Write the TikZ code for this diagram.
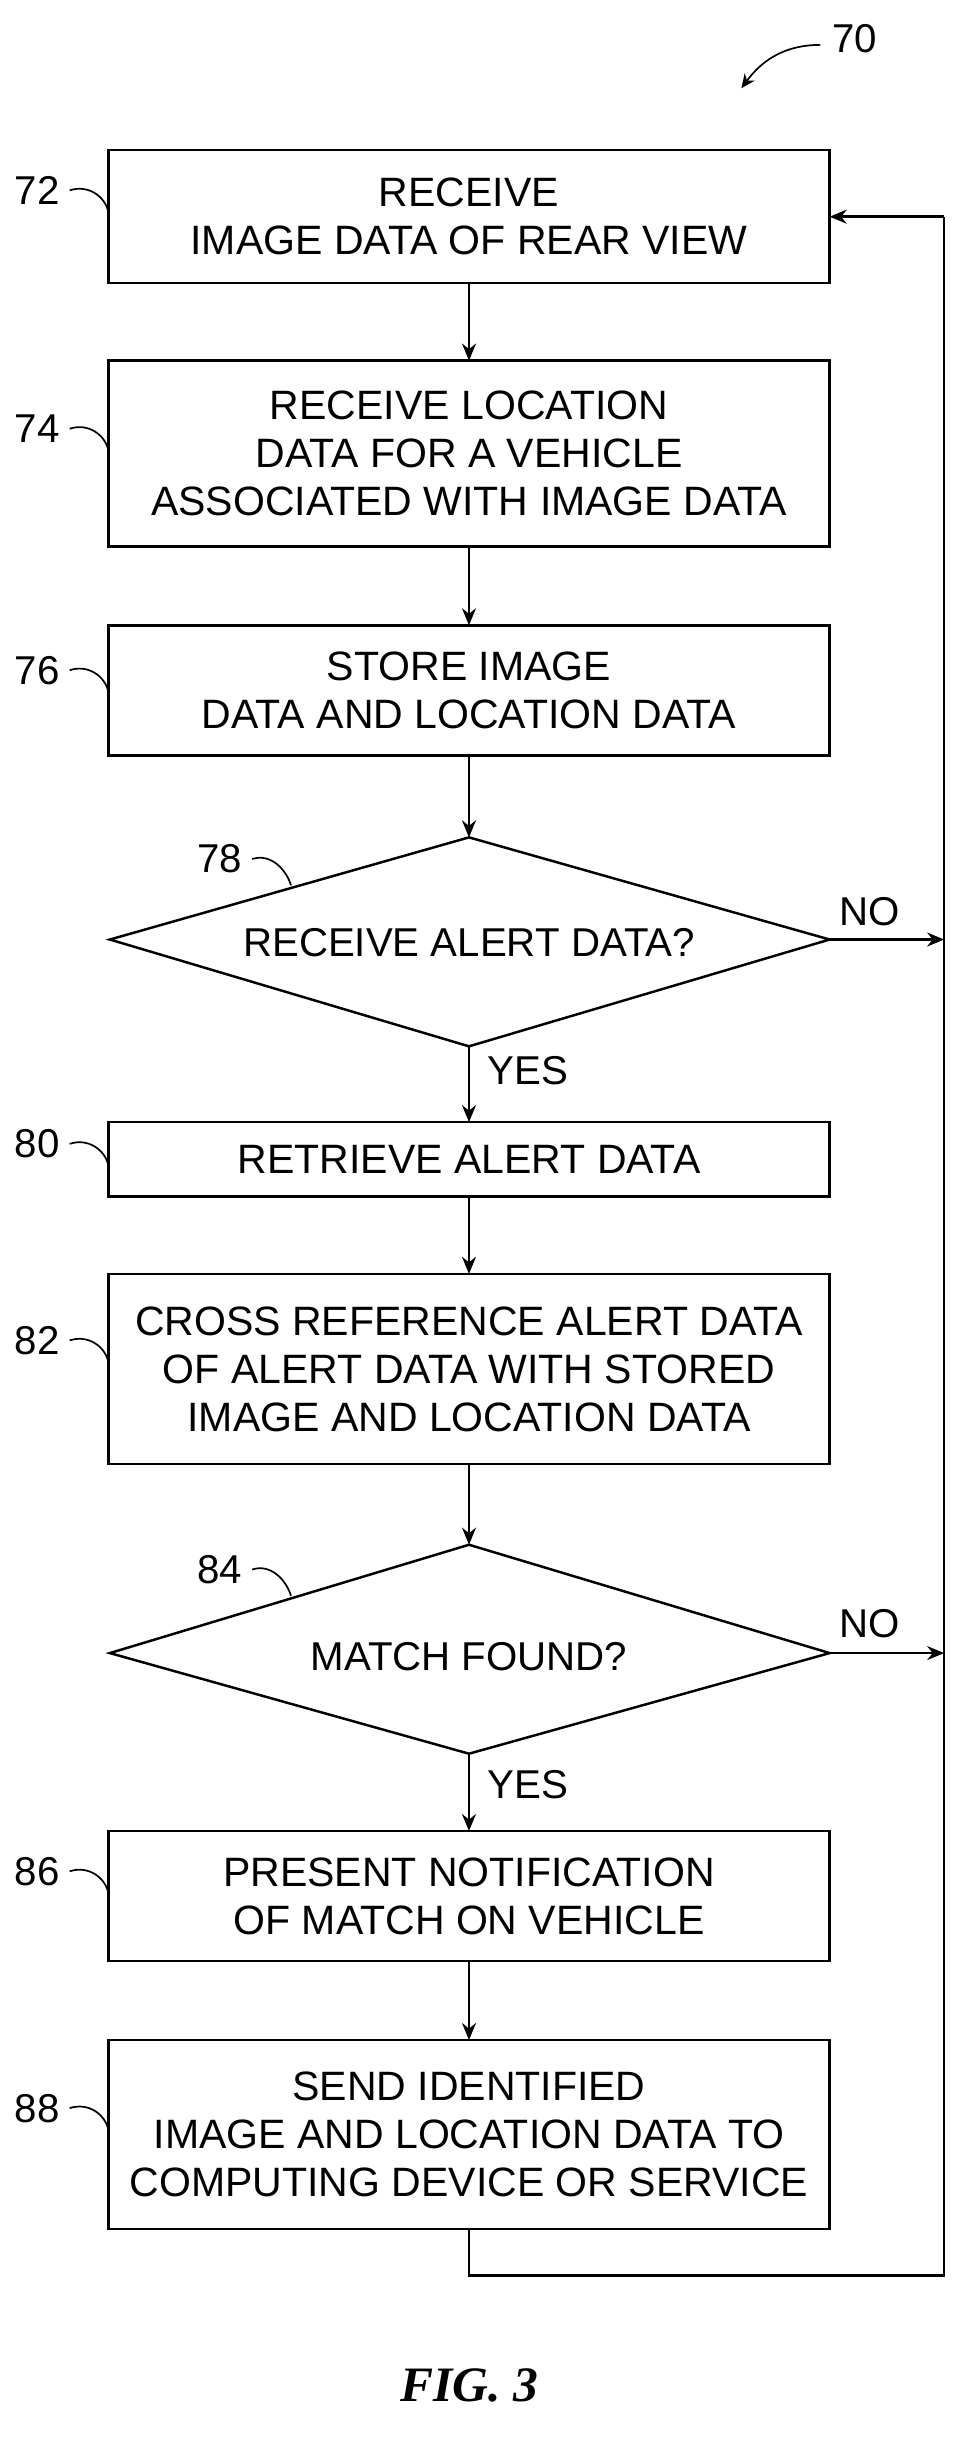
\documentclass[tikz,border=0pt]{standalone}
\usepackage{fontspec}
\setmainfont{Liberation Sans}
\newfontfamily\figfont{Liberation Serif}
\usetikzlibrary{arrows.meta}
\begin{document}
\begin{tikzpicture}[x=1pt,y=-1pt,
  lw/.style={line width=1.6pt},
  box/.style={draw,lw,align=center,font=\fontsize{26.5}{31}\selectfont},
  arr/.style={lw,-{Stealth[length=11pt,width=9pt]}},
  lab/.style={font=\fontsize{26}{29}\selectfont},
  tag/.style={line width=1.1pt}]
\useasboundingbox (0,0) rectangle (621,1579);
\fill[white] (0,0) rectangle (621,1579);
\newcommand{\bx}[4]{\draw[lw] (70,#2) rectangle (536,#3); \node[box,draw=none] (#1) at (303,{(#2+#3)/2}) {#4};
 \coordinate (#1t) at (303,#2); \coordinate (#1b) at (303,#3);}
\bx{b72}{97}{183}{RECEIVE\\IMAGE DATA OF REAR VIEW}
\bx{b74}{233}{353}{RECEIVE LOCATION\\DATA FOR A VEHICLE\\ASSOCIATED WITH IMAGE DATA}
\bx{b76}{404}{488}{STORE IMAGE\\DATA AND LOCATION DATA}
\bx{b80}{725}{773}{RETRIEVE ALERT DATA}
\bx{b82}{823}{946}{CROSS REFERENCE ALERT DATA\\OF ALERT DATA WITH STORED\\IMAGE AND LOCATION DATA}
\bx{b86}{1183}{1267}{PRESENT NOTIFICATION\\OF MATCH ON VEHICLE}
\bx{b88}{1318}{1440}{SEND IDENTIFIED\\IMAGE AND LOCATION DATA TO\\COMPUTING DEVICE OR SERVICE}
% diamonds
\draw[lw] (303,541) coordinate (d78t) -- (536,607) coordinate (d78r) -- (303,676) coordinate (d78b) -- (71,607) -- cycle;
\node[lab] (d78) at (303,609) {RECEIVE ALERT DATA?};
\draw[lw] (303,998) coordinate (d84t) -- (536,1068) coordinate (d84r) -- (303,1133) coordinate (d84b) -- (71,1068) -- cycle;
\node[lab] (d84) at (303,1070) {MATCH FOUND?};
% connectors
\draw[arr] (b72b) -- (b74t);
\draw[arr] (b74b) -- (b76t);
\draw[arr] (b76b) -- (d78t);
\draw[arr] (d78b) -- (b80t);
\draw[arr] (b80b) -- (b82t);
\draw[arr] (b82b) -- (d84t);
\draw[arr] (d84b) -- (b86t);
\draw[arr] (b86b) -- (b88t);
\coordinate (c1) at (303,1470); \coordinate (c2) at (610,1470);
\coordinate (c3) at (610,140); \coordinate (c4) at (536,140);
\coordinate (n1) at (610,607); \coordinate (n2) at (610,1068);
\draw[lw] (b88b) -- (c1) -- (c2) -- (c3);
\draw[arr] (c3) -- (c4);
\draw[arr] (d78r) -- (n1);
\draw[arr] (d84r) -- (n2);
\node[lab] (no1) at (562,589) {NO};
\node[lab] (no2) at (562,1049) {NO};
\node[lab] (y1) at (341,692) {YES};
\node[lab] (y2) at (341,1153) {YES};
% tags
\newcommand{\tg}[4]{\node[lab,anchor=east] (t#1) at (#2,#3) {#1};
 \draw[tag] ([xshift=3pt]t#1.east) .. controls +(12,-4) and +(-2,-10) .. (#4,#3+14);}
\tg{72}{42}{123}{70}
\tg{74}{42}{277}{70}
\tg{76}{42}{433}{70}
\tg{80}{42}{739}{70}
\tg{82}{42}{866}{70}
\tg{86}{42}{1209}{70}
\tg{88}{42}{1362}{70}
\node[lab,anchor=east] (t78) at (160,555) {78};
\draw[tag] ([xshift=3pt]t78.east) .. controls +(12,-4) and +(-3,-10) .. (188,572);
\node[lab,anchor=east] (t84) at (160,1014) {84};
\draw[tag] ([xshift=3pt]t84.east) .. controls +(12,-4) and +(-3,-10) .. (188,1031);
\node[lab] (t70) at (552,25) {70};
\draw[line width=1.1pt,-{Stealth[length=9pt,width=8pt]}] (530,29) .. controls (508,29) and (493,38) .. (479,57);
\node[font=\figfont\itshape\bfseries\fontsize{32}{36}\selectfont] (fig) at (303,1541) {FIG. 3};
\end{tikzpicture}
\end{document}
